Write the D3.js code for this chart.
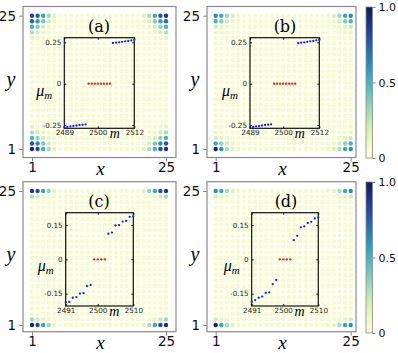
<!DOCTYPE html>
<html><head><meta charset="utf-8">
<script src="https://cdn.jsdelivr.net/npm/d3@7"></script>
<style>body{margin:0;background:#fff}svg{display:block}</style>
</head><body>
<script>
// ---------- DATA ----------
const gridSize = 25;
const backgroundValue = 0.06;
const gridTicks = [1, 25];
const colorbarTicks = [0, 0.5, 1.0];
const colorbarTickLabels = ["0", "0.5", "1.0"];
const panelLabels = ["(a)", "(b)", "(c)", "(d)"];

// corner intensities: [rowFromEdge][colFromEdge]
const aTL = [[0.85,0.75,0.55,0.32,0.15],[0.75,0.6,0.4,0.2,0.1],[0.52,0.38,0.2,0.12,0.08],[0.3,0.2,0.12,0.08,0.06],[0.15,0.1,0.08,0.06,0.06]];
const aTR = [[0.88,0.78,0.55,0.3,0.15],[0.72,0.58,0.38,0.2,0.1],[0.5,0.35,0.2,0.12,0.08],[0.3,0.2,0.12,0.08,0.06],[0.15,0.1,0.08,0.06,0.06]];
const aBL = [[0.95,0.8,0.52,0.3,0.15],[0.8,0.65,0.4,0.2,0.1],[0.5,0.35,0.2,0.12,0.08],[0.3,0.2,0.12,0.08,0.06],[0.15,0.1,0.08,0.06,0.06]];
const aBR = [[0.9,0.8,0.5,0.3,0.15],[0.78,0.62,0.4,0.2,0.1],[0.5,0.35,0.2,0.12,0.08],[0.3,0.2,0.12,0.08,0.06],[0.15,0.1,0.08,0.06,0.06]];

const bTL = [[0.62,0.55,0.32,0.18,0.1],[0.5,0.38,0.2,0.12,0.08],[0.22,0.15,0.1,0.07,0.06],[0.12,0.1,0.07,0.06,0.06],[0.08,0.07,0.06,0.06,0.06]];
const bTR = [[0.62,0.55,0.32,0.18,0.1],[0.5,0.38,0.2,0.12,0.08],[0.22,0.15,0.1,0.07,0.06],[0.12,0.1,0.07,0.06,0.06],[0.08,0.07,0.06,0.06,0.06]];
const bBL = [[0.95,0.6,0.3,0.15,0.1],[0.55,0.35,0.2,0.12,0.08],[0.2,0.15,0.1,0.07,0.06],[0.12,0.1,0.07,0.06,0.06],[0.08,0.07,0.06,0.06,0.06]];
const bBR = [[0.62,0.55,0.3,0.18,0.1],[0.5,0.36,0.2,0.12,0.08],[0.22,0.15,0.1,0.07,0.06],[0.12,0.1,0.07,0.06,0.06],[0.08,0.07,0.06,0.06,0.06]];

const cTL = [[0.9,0.8,0.55,0.35,0.15],[0.32,0.22,0.12,0.08,0.06]];
const cTR = [[0.88,0.8,0.55,0.35,0.15],[0.32,0.22,0.12,0.08,0.06]];
const cBL = [[0.95,0.8,0.55,0.32,0.15],[0.32,0.22,0.12,0.08,0.06]];
const cBR = [[0.9,0.8,0.55,0.3,0.15],[0.32,0.24,0.12,0.08,0.06]];

const dTL = [[0.62,0.55,0.3,0.15,0.1],[0.22,0.15,0.1,0.07,0.06]];
const dTR = [[0.62,0.55,0.3,0.15,0.1],[0.22,0.15,0.1,0.07,0.06]];
const dBL = [[0.95,0.55,0.3,0.15,0.1],[0.22,0.15,0.1,0.07,0.06]];
const dBR = [[0.62,0.55,0.3,0.15,0.1],[0.22,0.15,0.1,0.07,0.06]];

// inset spectra (a)/(b): m = 2489..2512
const abTicksX = [2489, 2500, 2512];
const abTicksY = [-0.25, 0, 0.25];
const abLowM  = [2489,2490,2491,2492,2493,2494,2495,2496];
const abLowMu = [-0.265,-0.262,-0.258,-0.256,-0.253,-0.250,-0.248,-0.246];
const abZeroM = [2497,2498,2499,2500,2501,2502,2503,2504];
const abHighM = [2505,2506,2507,2508,2509,2510,2511,2512];
const abHighMu = [0.246,0.248,0.250,0.253,0.256,0.258,0.262,0.265];

// inset spectra (c)/(d): m = 2491..2510
const cdTicksX = [2491, 2500, 2510];
const cdTicksY = [-0.15, 0, 0.15];
const cdLowM  = [2491,2492,2493,2494,2495,2496,2497,2498];
const cdZeroM = [2499,2500,2501,2502];
const cdHighM = [2503,2504,2505,2506,2507,2508,2509,2510];
const cLowMu  = [-0.188,-0.186,-0.168,-0.165,-0.150,-0.148,-0.117,-0.112];
const cHighMu = [0.112,0.117,0.148,0.150,0.165,0.168,0.186,0.188];
const dLowMu  = [-0.185,-0.178,-0.168,-0.163,-0.147,-0.144,-0.108,-0.090];
const dHighMu = [0.084,0.103,0.140,0.144,0.159,0.164,0.179,0.183];

// ---------- LAYOUT ----------
const W = 398, H = 353;
const svg = d3.select("body").append("svg").attr("width", W).attr("height", H);
const color = d3.scaleSequential(d3.interpolateYlGnBu).domain([0, 1]);

const panels = [
  {label: panelLabels[0], corners: [aTL,aTR,aBL,aBR], fx:[23,176], fy:[6.5,157.5], dx:[32,166], dy:[149,15.7],
   inset:{x:[64.3,134.3], y:[128.3,37.7], dX:[2489,2512], dY:[-0.27,0.278], tx:abTicksX, ty:abTicksY,
   low:[abLowM,abLowMu], zero:abZeroM, high:[abHighM,abHighMu]}, lab:[99,26]},
  {label: panelLabels[1], corners: [bTL,bTR,bBL,bBR], fx:[207,356], fy:[6.5,157.5], dx:[215.7,350.7], dy:[149,15.7],
   inset:{x:[250,319.3], y:[128.3,37.7], dX:[2489,2512], dY:[-0.27,0.278], tx:abTicksX, ty:abTicksY,
   low:[abLowM,abLowMu], zero:abZeroM, high:[abHighM,abHighMu]}, lab:[285,26]},
  {label: panelLabels[2], corners: [cTL,cTR,cBL,cBR], fx:[23,176], fy:[181.7,331.7], dx:[32,166], dy:[325,191],
   inset:{x:[65.7,133.3], y:[306,212.7], dX:[2491,2510], dY:[-0.204,0.204], tx:cdTicksX, ty:cdTicksY,
   low:[cdLowM,cLowMu], zero:cdZeroM, high:[cdHighM,cHighMu]}, lab:[99,201]},
  {label: panelLabels[3], corners: [dTL,dTR,dBL,dBR], fx:[207,356], fy:[181.7,331.7], dx:[215.7,350.7], dy:[325,191],
   inset:{x:[251.7,318.3], y:[306,212.7], dX:[2491,2510], dY:[-0.204,0.204], tx:cdTicksX, ty:cdTicksY,
   low:[cdLowM,dLowMu], zero:cdZeroM, high:[cdHighM,dHighMu]}, lab:[286,201]}
];

function valueAt(corners, x, y) {
  const [TL,TR,BL,BR] = corners;
  const look = (M, r, c) => (M[r] && M[r][c] !== undefined) ? M[r][c] : null;
  const cands = [];
  cands.push(look(TL, gridSize - y, x - 1));
  cands.push(look(TR, gridSize - y, gridSize - x));
  cands.push(look(BL, y - 1, x - 1));
  cands.push(look(BR, y - 1, gridSize - x));
  const v = cands.filter(d => d !== null);
  return v.length ? d3.max(v) : backgroundValue;
}

const frameGray = "#8a8a8a";
const sans = "'DejaVu Sans', sans-serif";
const serif = "'Liberation Serif', 'DejaVu Serif', serif";

panels.forEach(p => {
  const g = svg.append("g");
  const xs = d3.scaleLinear().domain([1, gridSize]).range(p.dx);
  const ys = d3.scaleLinear().domain([1, gridSize]).range(p.dy);
  const cells = [];
  for (let y = 1; y <= gridSize; y++) for (let x = 1; x <= gridSize; x++)
    cells.push({x, y, v: valueAt(p.corners, x, y)});
  g.selectAll("circle.cell").data(cells).join("circle").attr("class", "cell")
    .attr("cx", d => xs(d.x)).attr("cy", d => ys(d.y)).attr("r", 2.2)
    .attr("fill", d => color(d.v));

  g.append("rect").attr("x", p.fx[0]).attr("y", p.fy[0])
    .attr("width", p.fx[1] - p.fx[0]).attr("height", p.fy[1] - p.fy[0])
    .attr("fill", "none").attr("stroke", frameGray).attr("stroke-width", 1.2);

  const xa = g.append("g").attr("transform", `translate(0,${p.fy[1]})`)
    .call(d3.axisBottom(xs).tickValues(gridTicks).tickFormat(d3.format("d")).tickSize(4).tickPadding(2));
  const ya = g.append("g").attr("transform", `translate(${p.fx[0]},0)`)
    .call(d3.axisLeft(ys).tickValues(gridTicks).tickFormat(d3.format("d")).tickSize(4).tickPadding(3));
  [xa, ya].forEach(a => {
    a.select(".domain").remove();
    a.selectAll("line").attr("stroke", frameGray);
    a.selectAll("text").attr("font-family", sans).attr("font-size", 13.5).attr("fill", "#111");
  });
  xa.selectAll("text").attr("dy", "0.6em");

  g.append("text").text("x").attr("x", (p.fx[0] + p.fx[1]) / 2 + 1).attr("y", p.fy[1] + 17.5)
    .attr("text-anchor", "middle").attr("font-family", serif).attr("font-style", "italic").attr("font-size", 19);
  g.append("text").text("y").attr("x", p.fx[0] - 12).attr("y", (p.fy[0] + p.fy[1]) / 2 + 4)
    .attr("text-anchor", "middle").attr("font-family", serif).attr("font-style", "italic").attr("font-size", 20);

  g.append("text").text(p.label).attr("x", p.lab[0]).attr("y", p.lab[1]).attr("dy", "0.35em")
    .attr("text-anchor", "middle").attr("font-family", "'DejaVu Serif', serif").attr("font-size", 16);

  const I = p.inset;
  const ix = d3.scaleLinear().domain(I.dX).range(I.x);
  const iy = d3.scaleLinear().domain(I.dY).range(I.y);
  const ig = g.append("g");
  ig.append("rect").attr("x", I.x[0]).attr("y", I.y[1]).attr("width", I.x[1] - I.x[0]).attr("height", I.y[0] - I.y[1])
    .attr("fill", "none").attr("stroke", "#111").attr("stroke-width", 1.2);
  const fmtY = d => d === 0 ? "0" : (d < 0 ? "-" : "") + Math.abs(d).toFixed(2);
  const iya = ig.append("g").attr("transform", `translate(${I.x[0]},0)`)
    .call(d3.axisLeft(iy).tickValues(I.ty).tickFormat(fmtY).tickSize(-2).tickPadding(3));
  const ixa = ig.append("g").attr("transform", `translate(0,${I.y[0]})`)
    .call(d3.axisBottom(ix).tickValues(I.tx).tickFormat(d3.format("d")).tickSize(-2).tickPadding(2));
  const iya2 = ig.append("g").attr("transform", `translate(${I.x[1]},0)`)
    .call(d3.axisRight(iy).tickValues(I.ty).tickFormat("").tickSize(-2));
  const ixa2 = ig.append("g").attr("transform", `translate(0,${I.y[1]})`)
    .call(d3.axisTop(ix).tickValues(I.tx).tickFormat("").tickSize(-2));
  [iya, ixa, iya2, ixa2].forEach(a => {
    a.select(".domain").remove();
    a.selectAll("line").attr("stroke", "#111");
    a.selectAll("text").attr("font-family", sans).attr("font-size", 7.2).attr("fill", "#222");
  });

  const lowPts = I.low[0].map((m, i) => ({m, mu: I.low[1][i]}));
  const highPts = I.high[0].map((m, i) => ({m, mu: I.high[1][i]}));
  const zeroPts = I.zero.map(m => ({m, mu: 0}));
  ig.selectAll("circle.blue").data(lowPts.concat(highPts)).join("circle").attr("class", "blue")
    .attr("cx", d => ix(d.m)).attr("cy", d => iy(d.mu)).attr("r", 1.15).attr("fill", "#1a1aff");
  ig.selectAll("circle.red").data(zeroPts).join("circle").attr("class", "red")
    .attr("cx", d => ix(d.m)).attr("cy", d => iy(d.mu)).attr("r", 1.2).attr("fill", "#ff1a1a");

  const mu = ig.append("text").attr("x", I.x[0] - 20).attr("y", iy(0) + 12)
    .attr("text-anchor", "middle").attr("font-family", serif).attr("font-style", "italic").attr("font-size", 16);
  mu.append("tspan").text("μ");
  mu.append("tspan").text("m").attr("font-size", 11).attr("dy", 3);
  ig.append("text").text("m").attr("x", I.x[0] + 0.72 * (I.x[1] - I.x[0])).attr("y", I.y[0] + 10)
    .attr("text-anchor", "middle").attr("font-family", serif).attr("font-style", "italic").attr("font-size", 14);
});

[[7, 158], [182, 333]].forEach((r, k) => {
  const x0 = 366, w = 6.5;
  const cs = d3.scaleLinear().domain([0, 1]).range([r[1], r[0]]);
  const gid = "cbg" + k;
  const grad = svg.append("defs").append("linearGradient").attr("id", gid)
    .attr("x1", 0).attr("y1", 1).attr("x2", 0).attr("y2", 0);
  d3.range(0, 1.0001, 0.1).forEach(t => grad.append("stop").attr("offset", t).attr("stop-color", color(t)));
  svg.append("rect").attr("x", x0).attr("y", r[0]).attr("width", w).attr("height", r[1] - r[0])
    .attr("fill", `url(#${gid})`).attr("stroke", frameGray).attr("stroke-width", 0.8);
  const ax = svg.append("g").attr("transform", `translate(${x0 + w},0)`)
    .call(d3.axisRight(cs).tickValues(colorbarTicks).tickFormat((d, i) => colorbarTickLabels[i]).tickSize(3).tickPadding(3));
  ax.select(".domain").remove();
  ax.selectAll("line").attr("stroke", frameGray);
  ax.selectAll("text").attr("font-family", sans).attr("font-size", 11).attr("fill", "#111");
});
</script>
</body></html>
